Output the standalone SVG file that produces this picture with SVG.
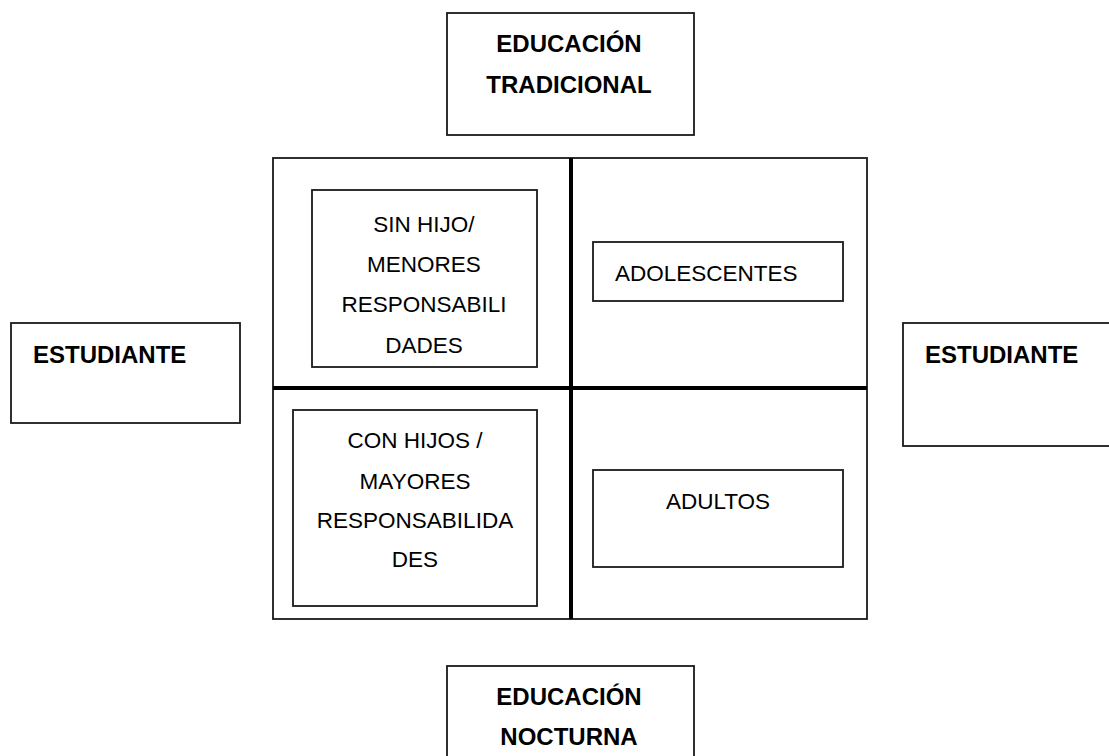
<svg xmlns="http://www.w3.org/2000/svg" width="1109" height="756" viewBox="0 0 1109 756">
  <style>
    .box { fill: #ffffff; stroke: #1a1a1a; stroke-width: 1.8; }
    .div { stroke: #000000; stroke-width: 4; }
    .b { font-family: "Liberation Sans", Arial, sans-serif; font-weight: bold; font-size: 24px; fill: #000; }
    .r { font-family: "Liberation Sans", Arial, sans-serif; font-size: 22.5px; fill: #000; }
    .c { text-anchor: middle; }
  </style>
  <rect width="1109" height="756" fill="#ffffff"/>

  <g id="educacion-tradicional">
    <rect class="box" x="447" y="13" width="247" height="122"/>
    <text class="b c" x="569" y="52">EDUCACIÓN</text>
    <text class="b c" x="569" y="93">TRADICIONAL</text>
  </g>

  <g id="estudiante-izq">
    <rect class="box" x="11" y="323" width="229" height="100"/>
    <text class="b" x="33" y="363">ESTUDIANTE</text>
  </g>

  <g id="estudiante-der">
    <rect class="box" x="903" y="323" width="230" height="123"/>
    <text class="b" x="925" y="363">ESTUDIANTE</text>
  </g>

  <g id="educacion-nocturna">
    <rect class="box" x="447" y="666" width="247" height="110"/>
    <text class="b c" x="569" y="705">EDUCACIÓN</text>
    <text class="b c" x="569" y="745">NOCTURNA</text>
  </g>

  <g id="cuadrante">
    <rect class="box" x="273" y="158" width="594" height="461"/>
    <line class="div" x1="571" y1="158" x2="571" y2="619"/>
    <line class="div" x1="273" y1="388" x2="867" y2="388"/>
  </g>

  <g id="sin-hijo">
    <rect class="box" x="312" y="190" width="225" height="177"/>
    <text class="r c" x="424" y="232">SIN HIJO/</text>
    <text class="r c" x="424" y="272">MENORES</text>
    <text class="r c" x="424" y="312">RESPONSABILI</text>
    <text class="r c" x="424" y="353">DADES</text>
  </g>

  <g id="adolescentes">
    <rect class="box" x="593" y="242" width="250" height="59"/>
    <text class="r" x="615" y="281">ADOLESCENTES</text>
  </g>

  <g id="con-hijos">
    <rect class="box" x="293" y="410" width="244" height="196"/>
    <text class="r c" x="415" y="448">CON HIJOS /</text>
    <text class="r c" x="415" y="489">MAYORES</text>
    <text class="r c" x="415" y="528">RESPONSABILIDA</text>
    <text class="r c" x="415" y="567">DES</text>
  </g>

  <g id="adultos">
    <rect class="box" x="593" y="470" width="250" height="97"/>
    <text class="r c" x="718" y="509">ADULTOS</text>
  </g>

  <g id="connectors"></g>
</svg>
